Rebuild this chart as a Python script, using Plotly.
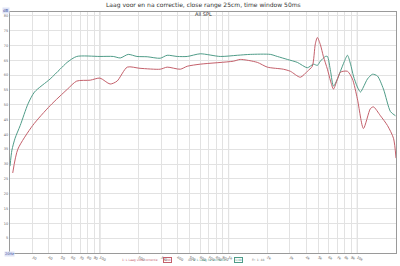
import plotly.graph_objects as go

# Data (frequency Hz, SPL dB)
red_freq = [21, 23, 30, 41, 56, 66, 84, 100, 120, 136, 163, 205, 294, 333, 421, 477, 602,
            1087, 1233, 1672, 2000, 2662, 3020, 3610, 4093, 4470, 4720, 4897, 5166, 5454,
            5861, 6200, 6531, 7015, 7398, 8390, 9170, 10020, 11170, 12650, 13360, 15140,
            17170, 19130, 20000]
red_db = [27, 35, 43, 49.7, 55.3, 58, 58.3, 59, 57, 58, 62.7, 62.3, 62, 62.7, 62, 63, 63.7,
          64.7, 65.3, 64.3, 62.7, 62, 61.3, 59.3, 61.3, 63, 70.5, 72.7, 70.3, 66.3,
          62, 58, 55.3, 58.7, 61, 61.3, 58.7, 52, 42, 48.7, 49.3, 46.3,
          43, 38.7, 32]

green_freq = [20, 20.7, 21.9, 24, 27.6, 31, 41, 49, 55.6, 66, 100, 127, 144, 166, 194, 233,
              294, 333, 399, 477, 602, 861, 1169, 1475, 2109, 2392, 2862, 3421, 4093, 4560,
              4897, 5166, 5653, 5861, 6200, 6531, 7015, 7398, 7950, 8390, 8870, 9340, 10020,
              10590, 11170, 12000, 13120, 14350, 15980, 18120, 19820]
green_db = [29.3, 34.7, 38.7, 43, 50.3, 54.3, 58.7, 62, 64.3, 66.3, 66.3, 66.3, 65.8, 67, 66.3, 66.2,
            65.7, 66.7, 66.3, 66.3, 67.2, 66.3, 66.7, 67, 67, 66.3, 65.3, 64.3, 62.5, 63.7,
            63.3, 64.7, 66.3, 66.3, 61.3, 56.3, 58.7, 61.3, 64.7, 66.7, 63.7, 59.7, 56,
            54.3, 56, 58.7, 60.3, 59.7, 55.3, 47.7, 46.3]

x_tickvals = [30, 40, 50, 60, 70, 80, 90, 100, 200, 300, 400, 500, 600, 700, 800, 900,
              1000, 2000, 3000, 4000, 5000, 6000, 7000, 8000, 9000, 10000, 20000]
x_ticktext = ["30", "40", "50", "60", "70", "80", "90", "100", "200", "300", "400", "500",
              "600", "700", "800", "900", "1k", "2k", "3k", "4k", "5k", "6k", "7k", "8k",
              "9k", "10k", "20kHz"]
y_tickvals = [5, 10, 15, 20, 25, 30, 35, 40, 45, 50, 55, 60, 65, 70, 75, 80]
y_ticktext = [str(v) for v in y_tickvals]

title = "Laag voor en na correctie, close range 25cm, time window 50ms"
subtitle = "All SPL"
name_red = "1: L Laag voor correctie"
name_green = "2: L Laag na correctie"

RED = "#c4606b"
GREEN = "#4f9c88"
FONT = "DejaVu Sans"
PLOT_W, PLOT_H = 387.0, 244.0

fig = go.Figure()
fig.add_trace(go.Scatter(x=green_freq, y=green_db, mode="lines", name=name_green,
                         line=dict(color=GREEN, width=1, shape="spline", smoothing=0.7)))
fig.add_trace(go.Scatter(x=red_freq, y=red_db, mode="lines", name=name_red,
                         line=dict(color=RED, width=1, shape="spline", smoothing=0.7)))

fig.update_layout(
    width=400, height=266,
    margin=dict(l=10, r=3, t=12, b=10),
    paper_bgcolor="white", plot_bgcolor="white",
    showlegend=False,
    font=dict(family=FONT, size=4, color="#555"),
)
fig.update_xaxes(type="log", range=[1.30103, 4.30103], tickvals=x_tickvals, ticktext=x_ticktext,
                 showgrid=True, gridcolor="#e2e2e2", gridwidth=1,
                 showline=True, linecolor="#9a9a9a", linewidth=1, mirror=True,
                 ticks="", ticklen=0, tickfont=dict(size=3.5, color="#666"), zeroline=False)
fig.update_yaxes(range=[0, 81.3], tickvals=y_tickvals, ticktext=y_ticktext,
                 showgrid=True, gridcolor="#e2e2e2", gridwidth=1,
                 showline=True, linecolor="#9a9a9a", linewidth=1, mirror=True,
                 ticks="", tickfont=dict(size=3.5, color="#666"), zeroline=False)

# darker decade lines
for f in [100, 1000, 10000]:
    fig.add_shape(type="line", xref="x", yref="paper", x0=f, x1=f, y0=0, y1=1,
                  line=dict(color="#cbcbcb", width=1), layer="below")


def px_x(px):
    return (px - 10) / PLOT_W


def px_y(py):
    return (256 - py) / PLOT_H


def note(text, x, y, xanchor="center", size=3.2, color="#777", **kw):
    fig.add_annotation(text=text, x=x, y=y, xref="paper", yref="paper",
                       xanchor=xanchor, yanchor="middle", showarrow=False,
                       font=dict(size=size, color=color, family=FONT), **kw)


note(title, 0.5, px_y(4.5), size=6, color="#333")
note(subtitle, 0.5, px_y(14.5), size=5, color="#333")
note("dB", px_x(6), px_y(10), size=4, color="#4050a0", bgcolor="#dfe3f5", borderpad=0)
note("20Hz", px_x(9), px_y(257.5), size=3.5, color="#4050a0", bgcolor="#dfe3f5", borderpad=0)

# legend row at bottom
leg_y = px_y(263)
note(name_red, px_x(160), leg_y, xanchor="right", color=RED, size=3)
note("1/48", px_x(168), leg_y, color=RED, size=3,
     bordercolor=RED, borderwidth=1, borderpad=0)
note("48", px_x(190), leg_y, color="#777", size=3)
note(name_green, px_x(229), leg_y, xanchor="right", color=GREEN, size=3)
note("1/48", px_x(239), leg_y, color=GREEN, size=3,
     bordercolor=GREEN, borderwidth=1, borderpad=0)
note("Fr: 1: 48", px_x(259), leg_y, color="#777", size=3)

fig.write_html("out.html")
